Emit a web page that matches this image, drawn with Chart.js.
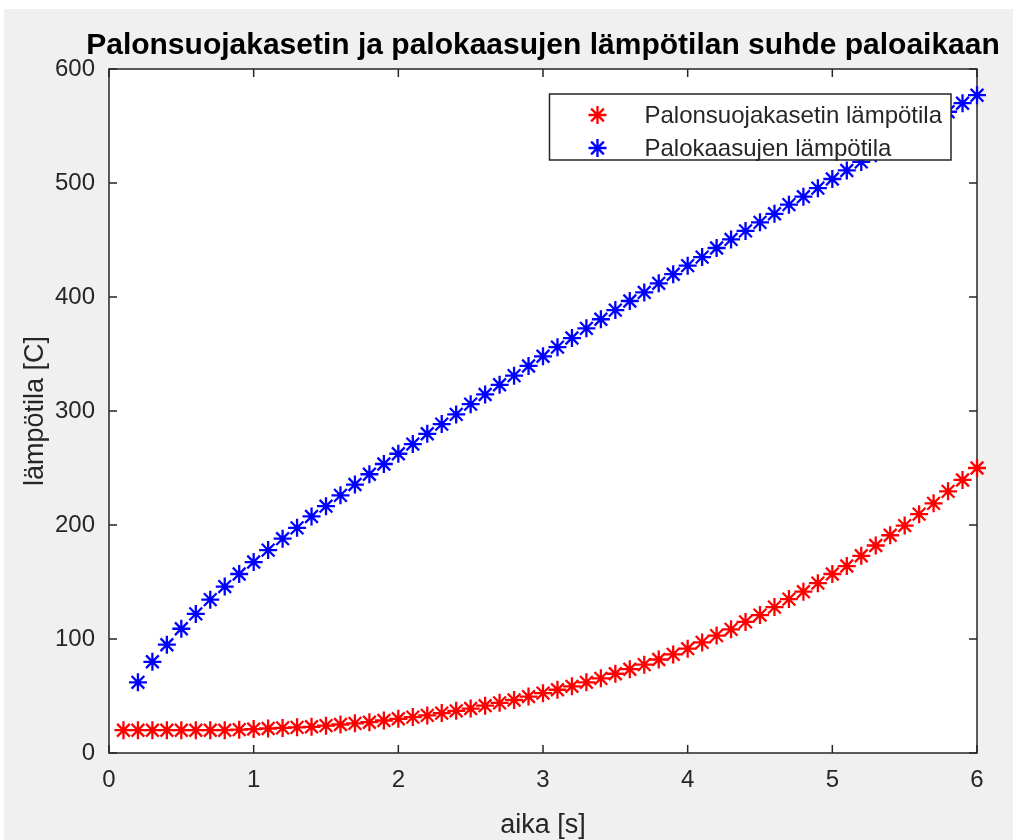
<!DOCTYPE html>
<html>
<head>
<meta charset="utf-8">
<script src="https://cdn.jsdelivr.net/npm/chart.js@4.4.1/dist/chart.umd.min.js"></script>
<style>
  html, body { margin: 0; padding: 0; background: #ffffff; }
  #wrap { position: absolute; left: 4px; top: 9px; width: 1009px; height: 831px; }
  canvas { display: block; }
</style>
</head>
<body>
<div id="wrap"><canvas id="c" width="1009" height="831"></canvas></div>
<script>
// ---- data ----
const titleText = 'Palonsuojakasetin ja palokaasujen lämpötilan suhde paloaikaan';
const xTitle = 'aika [s]';
const yTitle = 'lämpötila [C]';
const seriesNames = ['Palonsuojakasetin lämpötila', 'Palokaasujen lämpötila'];

const timeRed = [0.1,0.2,0.3,0.4,0.5,0.6,0.7,0.8,0.9,1.0,
                 1.1,1.2,1.3,1.4,1.5,1.6,1.7,1.8,1.9,2.0,
                 2.1,2.2,2.3,2.4,2.5,2.6,2.7,2.8,2.9,3.0,
                 3.1,3.2,3.3,3.4,3.5,3.6,3.7,3.8,3.9,4.0,
                 4.1,4.2,4.3,4.4,4.5,4.6,4.7,4.8,4.9,5.0,
                 5.1,5.2,5.3,5.4,5.5,5.6,5.7,5.8,5.9,6.0];
const tempCassette = [20,20,20,20,20,20,20,20,20.5,21,
                      21.5,22,22.5,23,24,25,26,27,28.5,30,
                      31.5,33,35,37,39,41.5,44,46.5,49.5,52.5,
                      55.5,58.5,62,65.5,69.5,73.5,77.5,82,86.5,91.5,
                      97,103,108.5,115,121,128,135,141.5,149,157,
                      164,173,182,191,199.5,209.5,219,229.5,239.5,250];

const timeBlue = [0.2,0.3,0.4,0.5,0.6,0.7,0.8,0.9,1.0,
                  1.1,1.2,1.3,1.4,1.5,1.6,1.7,1.8,1.9,2.0,
                  2.1,2.2,2.3,2.4,2.5,2.6,2.7,2.8,2.9,3.0,
                  3.1,3.2,3.3,3.4,3.5,3.6,3.7,3.8,3.9,4.0,
                  4.1,4.2,4.3,4.4,4.5,4.6,4.7,4.8,4.9,5.0,
                  5.1,5.2,5.3,5.4,5.5,5.6,5.7,5.8,5.9,6.0];
const tempGas = [62,80,95,109,122,134.5,146,157,167.5,
                 178,188,197.5,207.5,216.5,226,235.5,244.5,253.5,262.5,
                 271,280,288.5,297,306,314.5,323,331,339.5,348,
                 356,364,372.5,380.5,388.5,396.5,404,412,420,427.5,
                 435,443,450.5,458,465.5,473,481,488,495.5,503.5,
                 511,518.5,526,533,541,548,555.5,562.5,570,577];

const xTicks = [0,1,2,3,4,5,6];
const yTicks = [0,100,200,300,400,500,600];

// ---- styling ----
const FONT = "'Liberation Sans', Arial, Helvetica, sans-serif";
const AXIS_COLOR = '#262626';
const RED = '#ff0000';
const BLUE = '#0000ff';

const toPts = (xs, ys) => xs.map((x, i) => ({ x: x, y: ys[i] }));

const bgPlugin = {
  id: 'bg',
  afterLayout(chart) {
    // let the title text run wider than the plot (no squeezing), still centred on it
    if (chart.titleBlock) {
      chart.titleBlock.left = chart.chartArea.left - 80;
      chart.titleBlock.right = chart.chartArea.right + 80;
      chart.titleBlock.width = chart.titleBlock.right - chart.titleBlock.left;
    }
  },
  beforeDraw(chart) {
    const { ctx, chartArea: a } = chart;
    ctx.save();
    ctx.fillStyle = '#f0f0f0';
    ctx.fillRect(0, 0, chart.width, chart.height);
    ctx.fillStyle = '#ffffff';
    ctx.fillRect(a.left, a.top, a.right - a.left, a.bottom - a.top);
    ctx.restore();
  }
};

const boxPlugin = {
  id: 'axbox',
  beforeDatasetsDraw(chart) {
    const { ctx, chartArea: a, scales } = chart;
    const tl = 8;
    ctx.save();
    ctx.strokeStyle = AXIS_COLOR;
    ctx.lineWidth = 1.5;
    ctx.strokeRect(a.left, a.top, a.right - a.left, a.bottom - a.top);
    ctx.beginPath();
    scales.x.ticks.forEach(t => {
      const px = scales.x.getPixelForValue(t.value);
      ctx.moveTo(px, a.bottom); ctx.lineTo(px, a.bottom - tl);
      ctx.moveTo(px, a.top); ctx.lineTo(px, a.top + tl);
    });
    scales.y.ticks.forEach(t => {
      const py = scales.y.getPixelForValue(t.value);
      ctx.moveTo(a.left, py); ctx.lineTo(a.left + tl, py);
      ctx.moveTo(a.right, py); ctx.lineTo(a.right - tl, py);
    });
    ctx.stroke();
    ctx.restore();
  }
};

function drawStar(ctx, x, y, r, color, lw) {
  ctx.save();
  ctx.strokeStyle = color;
  ctx.lineWidth = lw;
  ctx.beginPath();
  for (let k = 0; k < 4; k++) {
    const ang = k * Math.PI / 4;
    const dx = Math.sin(ang) * r, dy = Math.cos(ang) * r;
    ctx.moveTo(x - dx, y - dy);
    ctx.lineTo(x + dx, y + dy);
  }
  ctx.stroke();
  ctx.restore();
}

const MARK_R = 9;
const MARK_W = 2.3;

const legendPlugin = {
  id: 'boxLegend',
  afterDatasetsDraw(chart) {
    const { ctx, chartArea: a } = chart;
    const fontSize = 24;
    ctx.save();
    ctx.font = fontSize + 'px ' + FONT;
    const textW = Math.max(...chart.data.datasets.map(d => ctx.measureText(d.label).width));
    const markX = 48, textX = 95, rightPad = 9, rowH = 33, topPad = 21;
    const w = textX + textW + rightPad;
    const h = topPad * 2 + rowH * (chart.data.datasets.length - 1) - 9;
    const right = a.right - 26;
    const top = a.top + 25;
    const left = right - w;
    ctx.fillStyle = '#ffffff';
    ctx.fillRect(left, top, w, h);
    ctx.strokeStyle = AXIS_COLOR;
    ctx.lineWidth = 1.5;
    ctx.strokeRect(left, top, w, h);
    chart.data.datasets.forEach((d, i) => {
      const cy = top + topPad + i * rowH;
      drawStar(ctx, left + markX, cy, MARK_R, d.borderColor, MARK_W);
      ctx.fillStyle = AXIS_COLOR;
      ctx.textAlign = 'left';
      ctx.textBaseline = 'middle';
      ctx.fillText(d.label, left + textX, cy + 1);
    });
    ctx.restore();
  }
};

const ctx = document.getElementById('c').getContext('2d');
new Chart(ctx, {
  type: 'scatter',
  data: {
    datasets: [
      { label: seriesNames[0], data: toPts(timeRed, tempCassette),
        pointStyle: 'star', pointRadius: MARK_R, pointBorderWidth: MARK_W,
        borderColor: RED, backgroundColor: RED, pointBorderColor: RED,
        showLine: false, clip: false },
      { label: seriesNames[1], data: toPts(timeBlue, tempGas),
        pointStyle: 'star', pointRadius: MARK_R, pointBorderWidth: MARK_W,
        borderColor: BLUE, backgroundColor: BLUE, pointBorderColor: BLUE,
        showLine: false, clip: false }
    ]
  },
  options: {
    responsive: false,
    animation: false,
    devicePixelRatio: 1,
    layout: { padding: { left: 0, top: 0, right: 36, bottom: 0 } },
    plugins: {
      legend: { display: false },
      tooltip: { enabled: false },
      title: {
        display: true, text: titleText, fullSize: false,
        color: '#000000',
        font: { family: FONT, size: 30, weight: 'bold' },
        padding: { top: 19, bottom: 5 }
      }
    },
    scales: {
      x: {
        type: 'linear', min: xTicks[0], max: xTicks[xTicks.length - 1],
        afterBuildTicks(s) { s.ticks = xTicks.map(v => ({ value: v })); },
        afterFit(s) { s.height = 87; },
        grid: { display: false, drawTicks: false },
        border: { display: false },
        ticks: { color: AXIS_COLOR, font: { family: FONT, size: 24 }, padding: 13, maxRotation: 0 },
        title: { display: true, text: xTitle, color: AXIS_COLOR,
                 font: { family: FONT, size: 27 }, padding: { top: 0, bottom: -2 } }
      },
      y: {
        type: 'linear', min: yTicks[0], max: yTicks[yTicks.length - 1],
        afterBuildTicks(s) { s.ticks = yTicks.map(v => ({ value: v })); },
        afterFit(s) { s.width = 105; },
        grid: { display: false, drawTicks: false },
        border: { display: false },
        ticks: { color: AXIS_COLOR, font: { family: FONT, size: 24 }, padding: 14 },
        title: { display: true, text: yTitle, color: AXIS_COLOR,
                 font: { family: FONT, size: 27 }, padding: { top: 15, bottom: 0 } }
      }
    }
  },
  plugins: [bgPlugin, boxPlugin, legendPlugin]
});
</script>
</body>
</html>
